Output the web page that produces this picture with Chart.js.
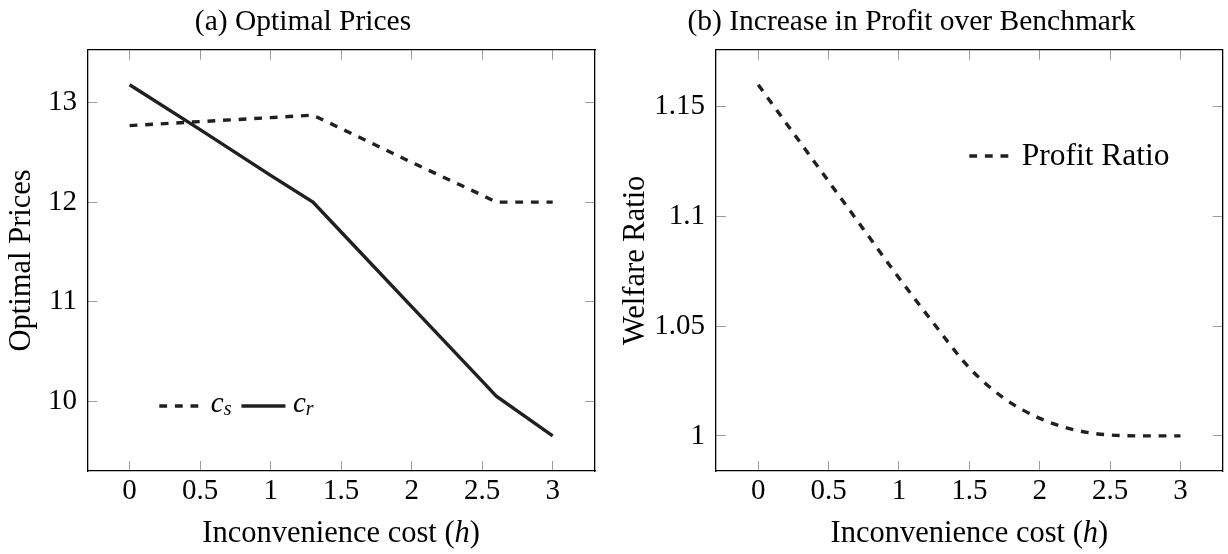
<!DOCTYPE html>
<html>
<head>
<meta charset="utf-8">
<script src="https://cdn.jsdelivr.net/npm/chart.js@4/dist/chart.umd.min.js"></script>
<style>
  html, body { margin: 0; padding: 0; background: #ffffff; }
  #wrap { position: relative; width: 1228px; height: 554px; overflow: hidden; background: #fff; }
  #wrap canvas { position: absolute; top: 0; }
  .pre { position: absolute; left: -9999px; top: 0; font-family: "Liberation Serif"; }
</style>
</head>
<body>
<div id="wrap">
  <canvas id="c1" width="614" height="554" style="left:0px"></canvas>
  <canvas id="c2" width="614" height="554" style="left:614px"></canvas>
</div>
<span class="pre">Preload <i>italic</i></span>
<script>
// ---------- data ----------
const H_PRICES   = [0, 0.5, 1, 1.3, 1.5, 2, 2.5, 2.6, 3];
const CS_PRICES  = [12.77, 12.81, 12.85, 12.875, 12.74, 12.40, 12.07, 12.0, 12.0];
const CR_PRICES  = [13.18, 12.73, 12.27, 12.0, 11.70, 10.95, 10.20, 10.05, 9.65];

const H_RATIO      = [0, 0.25, 0.5, 0.75, 1, 1.25, 1.5, 1.75, 2, 2.25, 2.5, 2.75, 3];
const PROFIT_RATIO = [1.160, 1.138, 1.116, 1.094, 1.072, 1.051, 1.031, 1.017, 1.008, 1.0027, 1.0004, 1.0, 1.0];

const X_TICKS        = [0, 0.5, 1, 1.5, 2, 2.5, 3];
const Y_TICKS_PRICES = [10, 11, 12, 13];
const Y_TICKS_RATIO  = [1, 1.05, 1.1, 1.15];

const TITLE_A = '(a) Optimal Prices';
const TITLE_B = '(b) Increase in Profit over Benchmark';
const X_LABEL = ['Inconvenience cost (', 'h', ')'];
const Y_LABEL_A = 'Optimal Prices';
const Y_LABEL_B = 'Welfare Ratio';

// ---------- styling ----------
const SERIF = "'Liberation Serif', 'DejaVu Serif', serif";
const INK = '#202020';

function pts(xs, ys) { return xs.map((x, i) => ({ x: x, y: ys[i] })); }

function makeScales(o) {
  const grid = () => ({ display: true, drawOnChartArea: false, drawTicks: true, tickLength: -10, color: '#9c9c9c', lineWidth: 1 });
  const border = () => ({ display: true, color: '#000', width: 1.3 });
  const setX = s => { s.ticks = o.xTicks.map(v => ({ value: v })); };
  const setY = s => { s.ticks = o.yTicks.map(v => ({ value: v })); };
  const tickFont = { family: SERIF, size: 29 };
  return {
    x: {
      type: 'linear', position: 'bottom', min: o.xMin, max: o.xMax,
      afterBuildTicks: setX, afterFit: s => { s.height = o.xAxisH; },
      ticks: { color: '#000', font: tickFont, padding: 12.8, maxRotation: 0, minRotation: 0, autoSkip: false, callback: v => String(v) },
      grid: grid(), border: border()
    },
    xTop: {
      type: 'linear', position: 'top', min: o.xMin, max: o.xMax,
      afterBuildTicks: setX, afterFit: s => { s.height = 0; },
      ticks: { display: false }, grid: grid(), border: border()
    },
    y: {
      type: 'linear', position: 'left', min: o.yMin, max: o.yMax,
      afterBuildTicks: setY, afterFit: s => { s.width = o.yAxisW; },
      ticks: { color: '#000', font: tickFont, padding: o.yPad, autoSkip: false, callback: v => String(v) },
      grid: grid(), border: border(),
      title: { display: true, text: o.yTitle, color: '#000', font: { family: SERIF, size: 30.5 }, padding: { top: 3.5, bottom: 0 } }
    },
    yRight: {
      type: 'linear', position: 'right', min: o.yMin, max: o.yMax,
      afterBuildTicks: setY, afterFit: s => { s.width = 0; },
      ticks: { display: false }, grid: grid(), border: border()
    }
  };
}

function drawRuns(ctx, runs, x, baseline, align) {
  let total = 0;
  runs.forEach(r => { ctx.font = r.f; r.w = ctx.measureText(r.t).width; total += r.w; });
  let cx = align === 'center' ? x - total / 2 : x;
  runs.forEach(r => {
    ctx.font = r.f;
    ctx.fillText(r.t, cx, baseline + (r.dy || 0));
    cx += r.w;
  });
  return cx;
}

const panelText = {
  id: 'panelText',
  afterDraw(chart, args, opts) {
    const ctx = chart.ctx, a = chart.chartArea;
    ctx.save();
    ctx.fillStyle = '#000';
    ctx.textBaseline = 'alphabetic';
    ctx.textAlign = 'left';
    drawRuns(ctx, [{ t: opts.title, f: '29.5px ' + SERIF }], opts.titleX, 29.5, 'center');
    drawRuns(ctx, [
      { t: X_LABEL[0], f: '30.5px ' + SERIF },
      { t: X_LABEL[1], f: 'italic 30.5px ' + SERIF },
      { t: X_LABEL[2], f: '30.5px ' + SERIF }
    ], (a.left + a.right) / 2, 542, 'center');
    const L = opts.legend;
    let x = a.left + L.dx;
    const y = a.top + L.dy;
    L.items.forEach(it => {
      const ds = chart.data.datasets[it.ds];
      ctx.save();
      ctx.strokeStyle = ds.borderColor;
      ctx.lineWidth = ds.borderWidth;
      ctx.lineCap = 'butt';
      ctx.setLineDash(ds.borderDash || []);
      ctx.beginPath();
      ctx.moveTo(x, y);
      ctx.lineTo(x + L.len, y);
      ctx.stroke();
      ctx.restore();
      x += L.len + L.gapLine;
      x = drawRuns(ctx, it.text.map(r => Object.assign({}, r)), x, y, 'left');
      x += L.gapItem;
    });
    ctx.restore();
  }
};

function build() {
  Chart.defaults.font.family = SERIF;
  const baseOpts = {
    responsive: false,
    animation: false,
    events: [],
    plugins: { legend: { display: false }, tooltip: { enabled: false }, title: { display: false } }
  };

  new Chart(document.getElementById('c1'), {
    type: 'line',
    data: {
      datasets: [
        { label: 'c_s', data: pts(H_PRICES, CS_PRICES), borderColor: INK, borderWidth: 3.4, borderDash: [7.8, 7.8],
          pointRadius: 0, fill: false, tension: 0, xAxisID: 'x', yAxisID: 'y' },
        { label: 'c_r', data: pts(H_PRICES, CR_PRICES), borderColor: INK, borderWidth: 3.4, borderDash: [],
          pointRadius: 0, fill: false, tension: 0, xAxisID: 'x', yAxisID: 'y' }
      ]
    },
    options: Object.assign({}, baseOpts, {
      layout: { padding: { left: 0, top: 49.7, right: 19, bottom: 0 } },
      scales: makeScales({ xMin: -0.3, xMax: 3.3, yMin: 9.297, yMax: 13.533, xTicks: X_TICKS, yTicks: Y_TICKS_PRICES,
                           xAxisH: 83, yAxisW: 87.3, yPad: 20.3, yTitle: Y_LABEL_A }),
      plugins: Object.assign({}, baseOpts.plugins, {
        panelText: {
          title: TITLE_A, titleX: 303,
          legend: {
            dx: 72, dy: 356.3, len: 44, gapLine: 7.5, gapItem: 10,
            items: [
              { ds: 0, text: [{ t: 'c', f: 'italic 29px ' + SERIF, dy: 5.7 }, { t: 's', f: 'italic 20px ' + SERIF, dy: 9 }] },
              { ds: 1, text: [{ t: 'c', f: 'italic 29px ' + SERIF, dy: 5.7 }, { t: 'r', f: 'italic 20px ' + SERIF, dy: 9 }] }
            ]
          }
        }
      })
    }),
    plugins: [panelText]
  });

  new Chart(document.getElementById('c2'), {
    type: 'line',
    data: {
      datasets: [
        { label: 'Profit Ratio', data: pts(H_RATIO, PROFIT_RATIO), borderColor: INK, borderWidth: 3.4, borderDash: [7.8, 7.8],
          pointRadius: 0, fill: false, cubicInterpolationMode: 'monotone', xAxisID: 'x', yAxisID: 'y' }
      ]
    },
    options: Object.assign({}, baseOpts, {
      layout: { padding: { left: 0, top: 49.7, right: 5.3, bottom: 0 } },
      scales: makeScales({ xMin: -0.3, xMax: 3.3, yMin: 0.984, yMax: 1.176, xTicks: X_TICKS, yTicks: Y_TICKS_RATIO,
                           xAxisH: 83, yAxisW: 102, yPad: 21, yTitle: Y_LABEL_B }),
      plugins: Object.assign({}, baseOpts.plugins, {
        panelText: {
          title: TITLE_B, titleX: 297.5,
          legend: {
            dx: 253.3, dy: 106.3, len: 44, gapLine: 8.4, gapItem: 0,
            items: [
              { ds: 0, text: [{ t: 'Profit Ratio', f: '31.5px ' + SERIF, dy: 9 }] }
            ]
          }
        }
      })
    }),
    plugins: [panelText]
  });
}

const loads = [
  '29px "Liberation Serif"', 'italic 29px "Liberation Serif"',
  '29px "DejaVu Serif"', 'italic 29px "DejaVu Serif"'
].map(f => document.fonts.load(f).catch(() => null));
Promise.all(loads).then(build, build);
</script>
</body>
</html>
